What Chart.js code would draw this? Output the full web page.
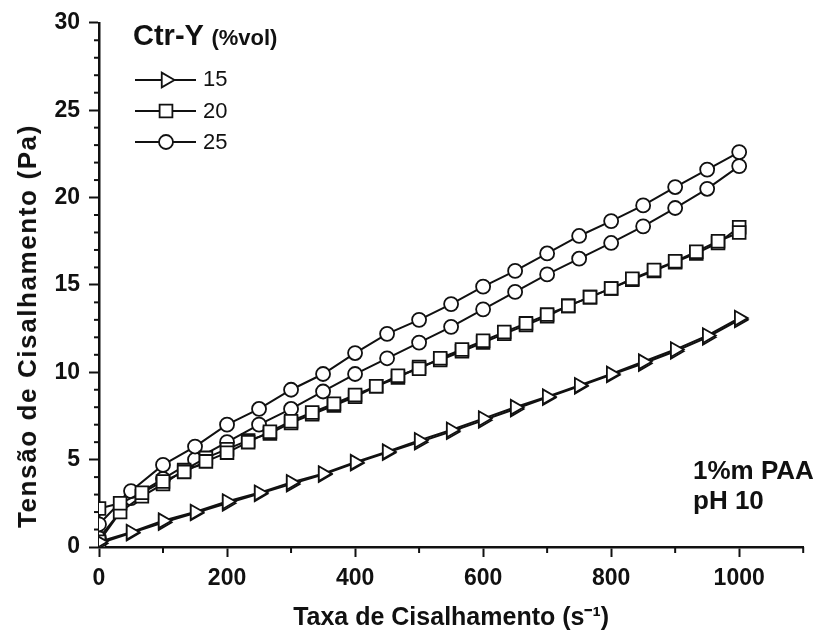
<!DOCTYPE html>
<html>
<head>
<meta charset="utf-8">
<script src="https://cdn.jsdelivr.net/npm/chart.js@4.4.1/dist/chart.umd.min.js"></script>
<style>
body { margin: 0; background: #fff; }
#wrap { position: relative; width: 814px; height: 644px; }
.txt { position: absolute; font-family: 'Liberation Sans', Arial, sans-serif; color: #111; white-space: nowrap; line-height: 1; }
#ytitle { left: 27px; top: 326px; font-size: 26px; font-weight: bold; letter-spacing: 1.6px; transform: translate(-50%, -50%) rotate(-90deg); }
</style>
</head>
<body>
<div id="wrap">
<canvas id="chart" width="814" height="644"></canvas>
<div class="txt" id="ytitle">Tensão de Cisalhamento (Pa)</div>
<div class="txt" style="left:133px;top:21px;font-size:29px;font-weight:bold">Ctr-Y <span style="font-size:22px">(%vol)</span></div>
<div class="txt" style="left:203px;top:68px;font-size:22px">15</div>
<div class="txt" style="left:203px;top:100px;font-size:22px">20</div>
<div class="txt" style="left:203px;top:131px;font-size:22px">25</div>
<div class="txt" style="left:693px;top:455px;font-size:26px;font-weight:bold;line-height:30px">1%m PAA<br>pH 10</div>
</div>
<script>
// shear rate (s-1) for the 15 and 25 %vol runs
const rate50 = [0, 50, 100, 150, 200, 250, 300, 350, 400, 450, 500,
                550, 600, 650, 700, 750, 800, 850, 900, 950, 1000];
// shear rate for the 20 %vol runs (denser sampling)
const rate33 = [0, 33, 67, 100, 133, 167, 200, 233, 267, 300, 333, 367, 400, 433, 467, 500,
                533, 567, 600, 633, 667, 700, 733, 767, 800, 833, 867, 900, 933, 967, 1000];

// shear stress (Pa), two runs for each concentration
const tri15a = [0.3, 0.85, 1.5, 2.0, 2.6, 3.1, 3.7, 4.2, 4.85, 5.45, 6.1,
                6.7, 7.35, 8.0, 8.6, 9.25, 9.9, 10.6, 11.3, 12.1, 13.1];
const tri15b = [0.2, 0.8, 1.4, 1.95, 2.5, 3.05, 3.6, 4.15, 4.8, 5.4, 6.0,
                6.6, 7.25, 7.9, 8.55, 9.2, 9.85, 10.5, 11.2, 12.0, 13.0];
const sq20a = [2.2, 2.5, 3.1, 3.75, 4.3, 4.9, 5.4, 6.0, 6.6, 7.2, 7.7, 8.2, 8.7, 9.2, 9.8, 10.2,
               10.8, 11.3, 11.8, 12.3, 12.8, 13.3, 13.8, 14.3, 14.8, 15.35, 15.85, 16.35, 16.9, 17.5, 18.0];
const sq20b = [0.3, 2.0, 2.9, 3.6, 4.4, 5.1, 5.6, 6.1, 6.5, 7.1, 7.6, 8.1, 8.6, 9.2, 9.7, 10.3,
               10.7, 11.2, 11.7, 12.2, 12.7, 13.2, 13.8, 14.3, 14.8, 15.3, 15.8, 16.3, 16.8, 17.4, 18.3];
const circ25a = [1.3, 3.2, 4.7, 5.75, 7.0, 7.9, 9.0, 9.9, 11.1, 12.2, 13.0,
                 13.9, 14.9, 15.8, 16.8, 17.8, 18.65, 19.55, 20.6, 21.6, 22.6];
const circ25b = [0.5, 2.8, 3.9, 5.0, 6.0, 7.0, 7.9, 8.9, 9.9, 10.8, 11.7,
                 12.6, 13.6, 14.6, 15.6, 16.5, 17.4, 18.35, 19.4, 20.5, 21.8];

const yTicks = [0, 5, 10, 15, 20, 25, 30];
const xTicks = [0, 200, 400, 600, 800, 1000];

function pts(xs, ys) {
    return ys.map((y, i) => ({ x: xs[i], y: y }));
}

const triStyle = { pointStyle: "triangle", pointRadius: 8.5, pointRotation: 90 };
const sqStyle = { pointStyle: "rect", pointRadius: 9, pointRotation: 0 };
const circStyle = { pointStyle: "circle", pointRadius: 7, pointRotation: 0 };

function ds(label, data, style) {
    return Object.assign({
        label: label,
        data: data,
        showLine: true,
        borderColor: "#111",
        borderWidth: 2,
        pointBackgroundColor: "#fff",
        pointBorderColor: "#111",
        pointBorderWidth: 1.8,
        tension: 0
    }, style);
}

const font = { family: "'Liberation Sans', Arial, sans-serif", weight: "bold" };

// minor ticks + legend symbols
const extras = {
    id: "extras",
    afterDraw(chart) {
        const ctx = chart.ctx;
        const xs = chart.scales.x, ys = chart.scales.y;
        ctx.save();
        ctx.strokeStyle = "#111";
        ctx.lineWidth = 2;
        for (let v = 1; v < 30; v++) {
            if (v % 5 === 0) continue;
            const py = ys.getPixelForValue(v);
            ctx.beginPath();
            ctx.moveTo(xs.left, py);
            ctx.lineTo(xs.left - 5, py);
            ctx.stroke();
        }
        [100, 300, 500, 700, 900, 1100].forEach(v => {
            const px = xs.getPixelForValue(v);
            ctx.beginPath();
            ctx.moveTo(px, ys.bottom);
            ctx.lineTo(px, ys.bottom + 6);
            ctx.stroke();
        });

        // legend
        const rows = [[80, "tri"], [111, "sq"], [142, "circ"]];
        rows.forEach(([y, kind]) => {
            ctx.lineWidth = 2;
            ctx.beginPath();
            ctx.moveTo(135, y);
            ctx.lineTo(196, y);
            ctx.stroke();
            const cx = 166;
            ctx.fillStyle = "#fff";
            ctx.lineWidth = 1.8;
            ctx.beginPath();
            if (kind === "tri") {
                ctx.moveTo(cx + 8.5, y);
                ctx.lineTo(cx - 4.25, y - 7.4);
                ctx.lineTo(cx - 4.25, y + 7.4);
                ctx.closePath();
            } else if (kind === "sq") {
                ctx.rect(cx - 6.4, y - 6.4, 12.8, 12.8);
            } else {
                ctx.arc(cx, y, 7, 0, Math.PI * 2);
            }
            ctx.fill();
            ctx.stroke();
        });
        ctx.restore();
    }
};

new Chart(document.getElementById("chart"), {
    type: "scatter",
    data: {
        datasets: [
            ds("15", pts(rate50, tri15a), triStyle),
            ds("15", pts(rate50, tri15b), triStyle),
            ds("20", pts(rate33, sq20a), sqStyle),
            ds("20", pts(rate33, sq20b), sqStyle),
            ds("25", pts(rate50, circ25a), circStyle),
            ds("25", pts(rate50, circ25b), circStyle)
        ]
    },
    options: {
        responsive: false,
        animation: false,
        devicePixelRatio: 1,
        layout: { padding: { top: 20, right: 6, left: 0, bottom: 0 } },
        plugins: { legend: { display: false }, tooltip: { enabled: false } },
        scales: {
            x: {
                type: "linear",
                min: 0,
                max: 1100,
                afterFit(s) { s.height = 97; },
                afterBuildTicks(s) { s.ticks = xTicks.map(v => ({ value: v })); },
                ticks: { color: "#111", font: Object.assign({ size: 23 }, font), padding: 8, maxRotation: 0,
                         callback: v => String(v) },
                grid: { drawOnChartArea: false, drawTicks: true, tickLength: 10, tickWidth: 2, tickColor: "#111" },
                border: { display: true, color: "#111", width: 2.5 },
                title: {
                    display: true,
                    text: "Taxa de Cisalhamento (s⁻¹)",
                    color: "#111",
                    font: Object.assign({ size: 25 }, font),
                    padding: { top: 0, bottom: 11 }
                }
            },
            y: {
                type: "linear",
                min: 0,
                max: 30,
                afterFit(s) { s.width = 99; },
                afterBuildTicks(s) { s.ticks = yTicks.map(v => ({ value: v })); },
                ticks: { color: "#111", font: Object.assign({ size: 23 }, font), padding: 9,
                         callback: v => String(v) },
                grid: { drawOnChartArea: false, drawTicks: true, tickLength: 10, tickWidth: 2, tickColor: "#111" },
                border: { display: true, color: "#111", width: 2.5 }
            }
        }
    },
    plugins: [extras]
});
</script>
</body>
</html>
